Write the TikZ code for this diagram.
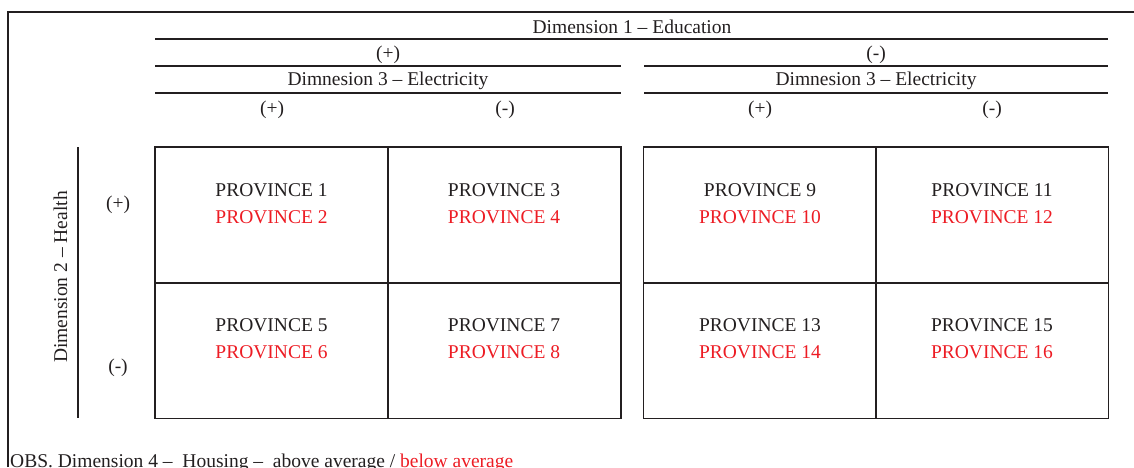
\documentclass[tikz,border=0pt]{standalone}
\usepackage{fontspec}
\setmainfont{Liberation Serif}
\definecolor{ink}{HTML}{231F20}
\definecolor{redtxt}{HTML}{ED1C24}
\begin{document}
\begin{tikzpicture}[x=1pt,y=-1pt,
  rule/.style={draw=ink,line width=1.8pt},
  lbl/.style={inner sep=0pt,anchor=base,text=ink,font=\fontsize{19.5}{22}\selectfont},
  redlbl/.style={lbl,text=redtxt},
  cell/.style={draw=ink,line width=1.8pt,minimum width=233pt,minimum height=136pt,inner sep=0pt}]
\useasboundingbox (0,0) rectangle (1134,467);
% outer frame
\draw[rule] (8,467) -- (8,12) -- (1134,12);
% header rules
\draw[rule] (155,39) -- (1108,39);
\draw[rule] (155,66) -- (620.5,66);
\draw[rule] (644,66) -- (1108,66);
\draw[rule] (155,93) -- (620.5,93);
\draw[rule] (644,93) -- (1108,93);
% header texts
\node[lbl] (d1) at (632,33) {Dimension 1 – Education};
\node[lbl] (p1) at (388,59) {(+)};
\node[lbl] (m1) at (876,59) {(-)};
\node[lbl] (e1) at (388,85.5) {Dimnesion 3 – Electricity};
\node[lbl] (e2) at (876,85.5) {Dimnesion 3 – Electricity};
\node[lbl] (pa) at (272,114) {(+)};
\node[lbl] (ma) at (505,114) {(-)};
\node[lbl] (pb) at (760,114) {(+)};
\node[lbl] (mb) at (992,114) {(-)};
% left axis
\draw[rule] (78,147) -- (78,418);
\node[lbl,rotate=90] (d2) at (67,277) {Dimension 2 – Health};
\node[lbl] (ph) at (118,209) {(+)};
\node[lbl] (mh) at (118,372) {(-)};
% cells
\node[cell] (c11) at (271.75,215) {};
\node[cell] (c12) at (504.25,215) {};
\node[cell] (c21) at (271.75,350.5) {};
\node[cell] (c22) at (504.25,350.5) {};
\node[cell] (c13) at (760,215) {};
\node[cell] (c14) at (992,215) {};
\node[cell] (c23) at (760,350.5) {};
\node[cell] (c24) at (992,350.5) {};
% cell texts
\node[lbl] (t1) at (271.5,196) {PROVINCE 1};
\node[redlbl] (t2) at (271.5,223) {PROVINCE 2};
\node[lbl] (t3) at (504,196) {PROVINCE 3};
\node[redlbl] (t4) at (504,223) {PROVINCE 4};
\node[lbl] (t9) at (760,196) {PROVINCE 9};
\node[redlbl] (t10) at (760,223) {PROVINCE 10};
\node[lbl] (t11) at (992,196) {PROVINCE 11};
\node[redlbl] (t12) at (992,223) {PROVINCE 12};
\node[lbl] (t5) at (271.5,331) {PROVINCE 5};
\node[redlbl] (t6) at (271.5,358) {PROVINCE 6};
\node[lbl] (t7) at (504,331) {PROVINCE 7};
\node[redlbl] (t8) at (504,358) {PROVINCE 8};
\node[lbl] (t13) at (760,331) {PROVINCE 13};
\node[redlbl] (t14) at (760,358) {PROVINCE 14};
\node[lbl] (t15) at (992,331) {PROVINCE 15};
\node[redlbl] (t16) at (992,358) {PROVINCE 16};
% footnote
\node[lbl,anchor=base west] (obs) at (10,467) {OBS. Dimension 4 –\ \ Housing –\ \ above average / \textcolor{redtxt}{below average}};
\end{tikzpicture}
\end{document}
